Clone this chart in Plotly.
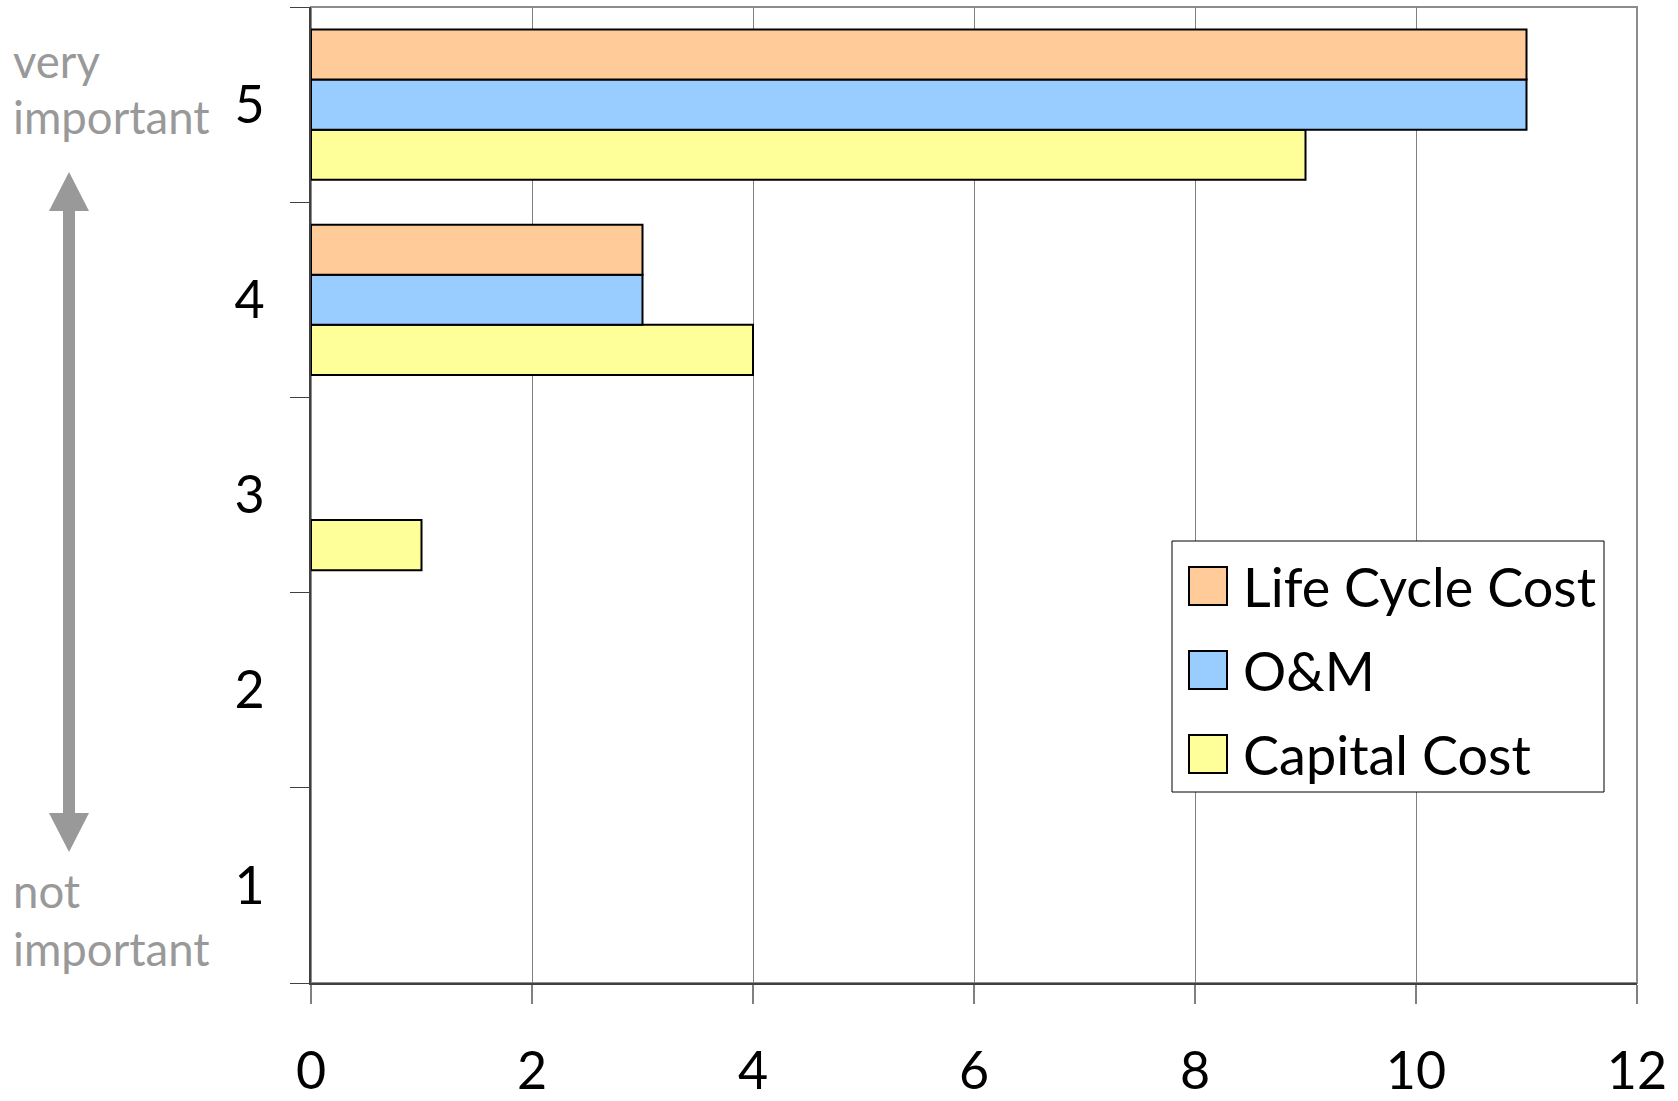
import plotly.graph_objects as go

# ---- data ----
importance = [5, 4, 3]
life_cycle_cost = [11, 3, 0]
o_and_m = [11, 3, 0]
capital_cost = [9, 4, 1]
series_names = ["Life Cycle Cost", "O&M", "Capital Cost"]
series_colors = ["#FFCC99", "#99CCFF", "#FFFF99"]
x_ticks = [0, 2, 4, 6, 8, 10, 12]
y_ticks = [1, 2, 3, 4, 5]

W, H = 1678, 1101
L, R, T, B = 311, 1637, 7, 983
FONT = "Lato"


def X(px):
    return (px - L) / (R - L)


def Y(py):
    return (B - py) / (B - T)


fig = go.Figure()
# first trace drawn at bottom of group in horizontal bars
for name, vals, col in [
    (series_names[2], capital_cost, series_colors[2]),
    (series_names[1], o_and_m, series_colors[1]),
    (series_names[0], life_cycle_cost, series_colors[0]),
]:
    fig.add_trace(go.Bar(
        x=vals, y=importance, orientation="h", name=name,
        marker=dict(color=col, line=dict(color="#000000",
                                         width=[2 if v > 0 else 0 for v in vals])),
        showlegend=False, hoverinfo="x+name",
    ))

shapes = []
# plot frame (top/right grey)
shapes.append(dict(type="rect", xref="paper", yref="paper", x0=0, x1=1, y0=0, y1=1,
                   line=dict(color="#8C8C8C", width=2), layer="below"))

# custom legend
shapes.append(dict(type="rect", xref="paper", yref="paper",
                   x0=X(1172), x1=X(1604), y0=Y(792), y1=Y(541),
                   line=dict(color="#000000", width=1), fillcolor="white", layer="above"))
annotations = []
row_centers = [586, 670, 754]
for name, col, cy in zip(series_names, series_colors, row_centers):
    shapes.append(dict(type="rect", xref="paper", yref="paper",
                       x0=X(1189), x1=X(1227), y0=Y(cy + 19), y1=Y(cy - 19),
                       line=dict(color="#000000", width=2), fillcolor=col, layer="above"))
    annotations.append(dict(xref="paper", yref="paper", x=X(1241), y=Y(cy),
                            xanchor="left", yanchor="middle", text=name, showarrow=False,
                            font=dict(family=FONT, size=54, color="#000000")))

# double-headed arrow on the left
grey = "#999999"
shapes.append(dict(type="rect", xref="paper", yref="paper",
                   x0=X(63), x1=X(75), y0=Y(815), y1=Y(208),
                   line=dict(width=0), fillcolor=grey, layer="above"))
shapes.append(dict(type="path", xref="paper", yref="paper",
                   path=f"M {X(69)} {Y(172)} L {X(49)} {Y(211)} L {X(89)} {Y(211)} Z",
                   line=dict(width=0), fillcolor=grey, layer="above"))
shapes.append(dict(type="path", xref="paper", yref="paper",
                   path=f"M {X(69)} {Y(852)} L {X(49)} {Y(813)} L {X(89)} {Y(813)} Z",
                   line=dict(width=0), fillcolor=grey, layer="above"))

for txt, cy in [("very", 61), ("important", 116), ("not", 890), ("important", 948)]:
    annotations.append(dict(xref="paper", yref="paper", x=X(11), y=Y(cy),
                            xanchor="left", yanchor="middle", text=txt, showarrow=False,
                            font=dict(family=FONT, size=45.5, color=grey)))

fig.update_layout(
    width=W, height=H,
    margin=dict(l=L, r=W - R, t=T, b=H - B, pad=0, autoexpand=False),
    paper_bgcolor="white", plot_bgcolor="white",
    barmode="group", bargap=0.23, bargroupgap=0,
    font=dict(family=FONT, size=52, color="#000000"),
    shapes=shapes, annotations=annotations,
    showlegend=False,
)
fig.update_xaxes(
    range=[0, 12], tickvals=x_ticks, ticktext=[str(v) for v in x_ticks],
    showgrid=True, gridcolor="#808080", gridwidth=1, zeroline=False,
    showline=True, linecolor="#404040", linewidth=2,
    ticks="outside", ticklen=19, tickcolor="#808080", tickwidth=2,
    ticklabelstandoff=23, automargin=False,
    tickfont=dict(family=FONT, size=52, color="#000000"),
)
fig.update_yaxes(
    range=[0.5, 5.5], tickvals=y_ticks, ticktext=[str(v) for v in y_ticks],
    showgrid=False, zeroline=False,
    showline=True, linecolor="#404040", linewidth=2,
    ticks="", ticklabelstandoff=34, automargin=False,
    minor=dict(tickvals=[0.5, 1.5, 2.5, 3.5, 4.5, 5.5], ticks="outside", ticklen=19,
               tickcolor="#404040", tickwidth=1, showgrid=False),
    tickfont=dict(family=FONT, size=52, color="#000000"),
)

fig.write_html("out.html", config={"displayModeBar": False},
               post_script="document.body.style.margin='0';document.body.style.overflow='hidden';")
